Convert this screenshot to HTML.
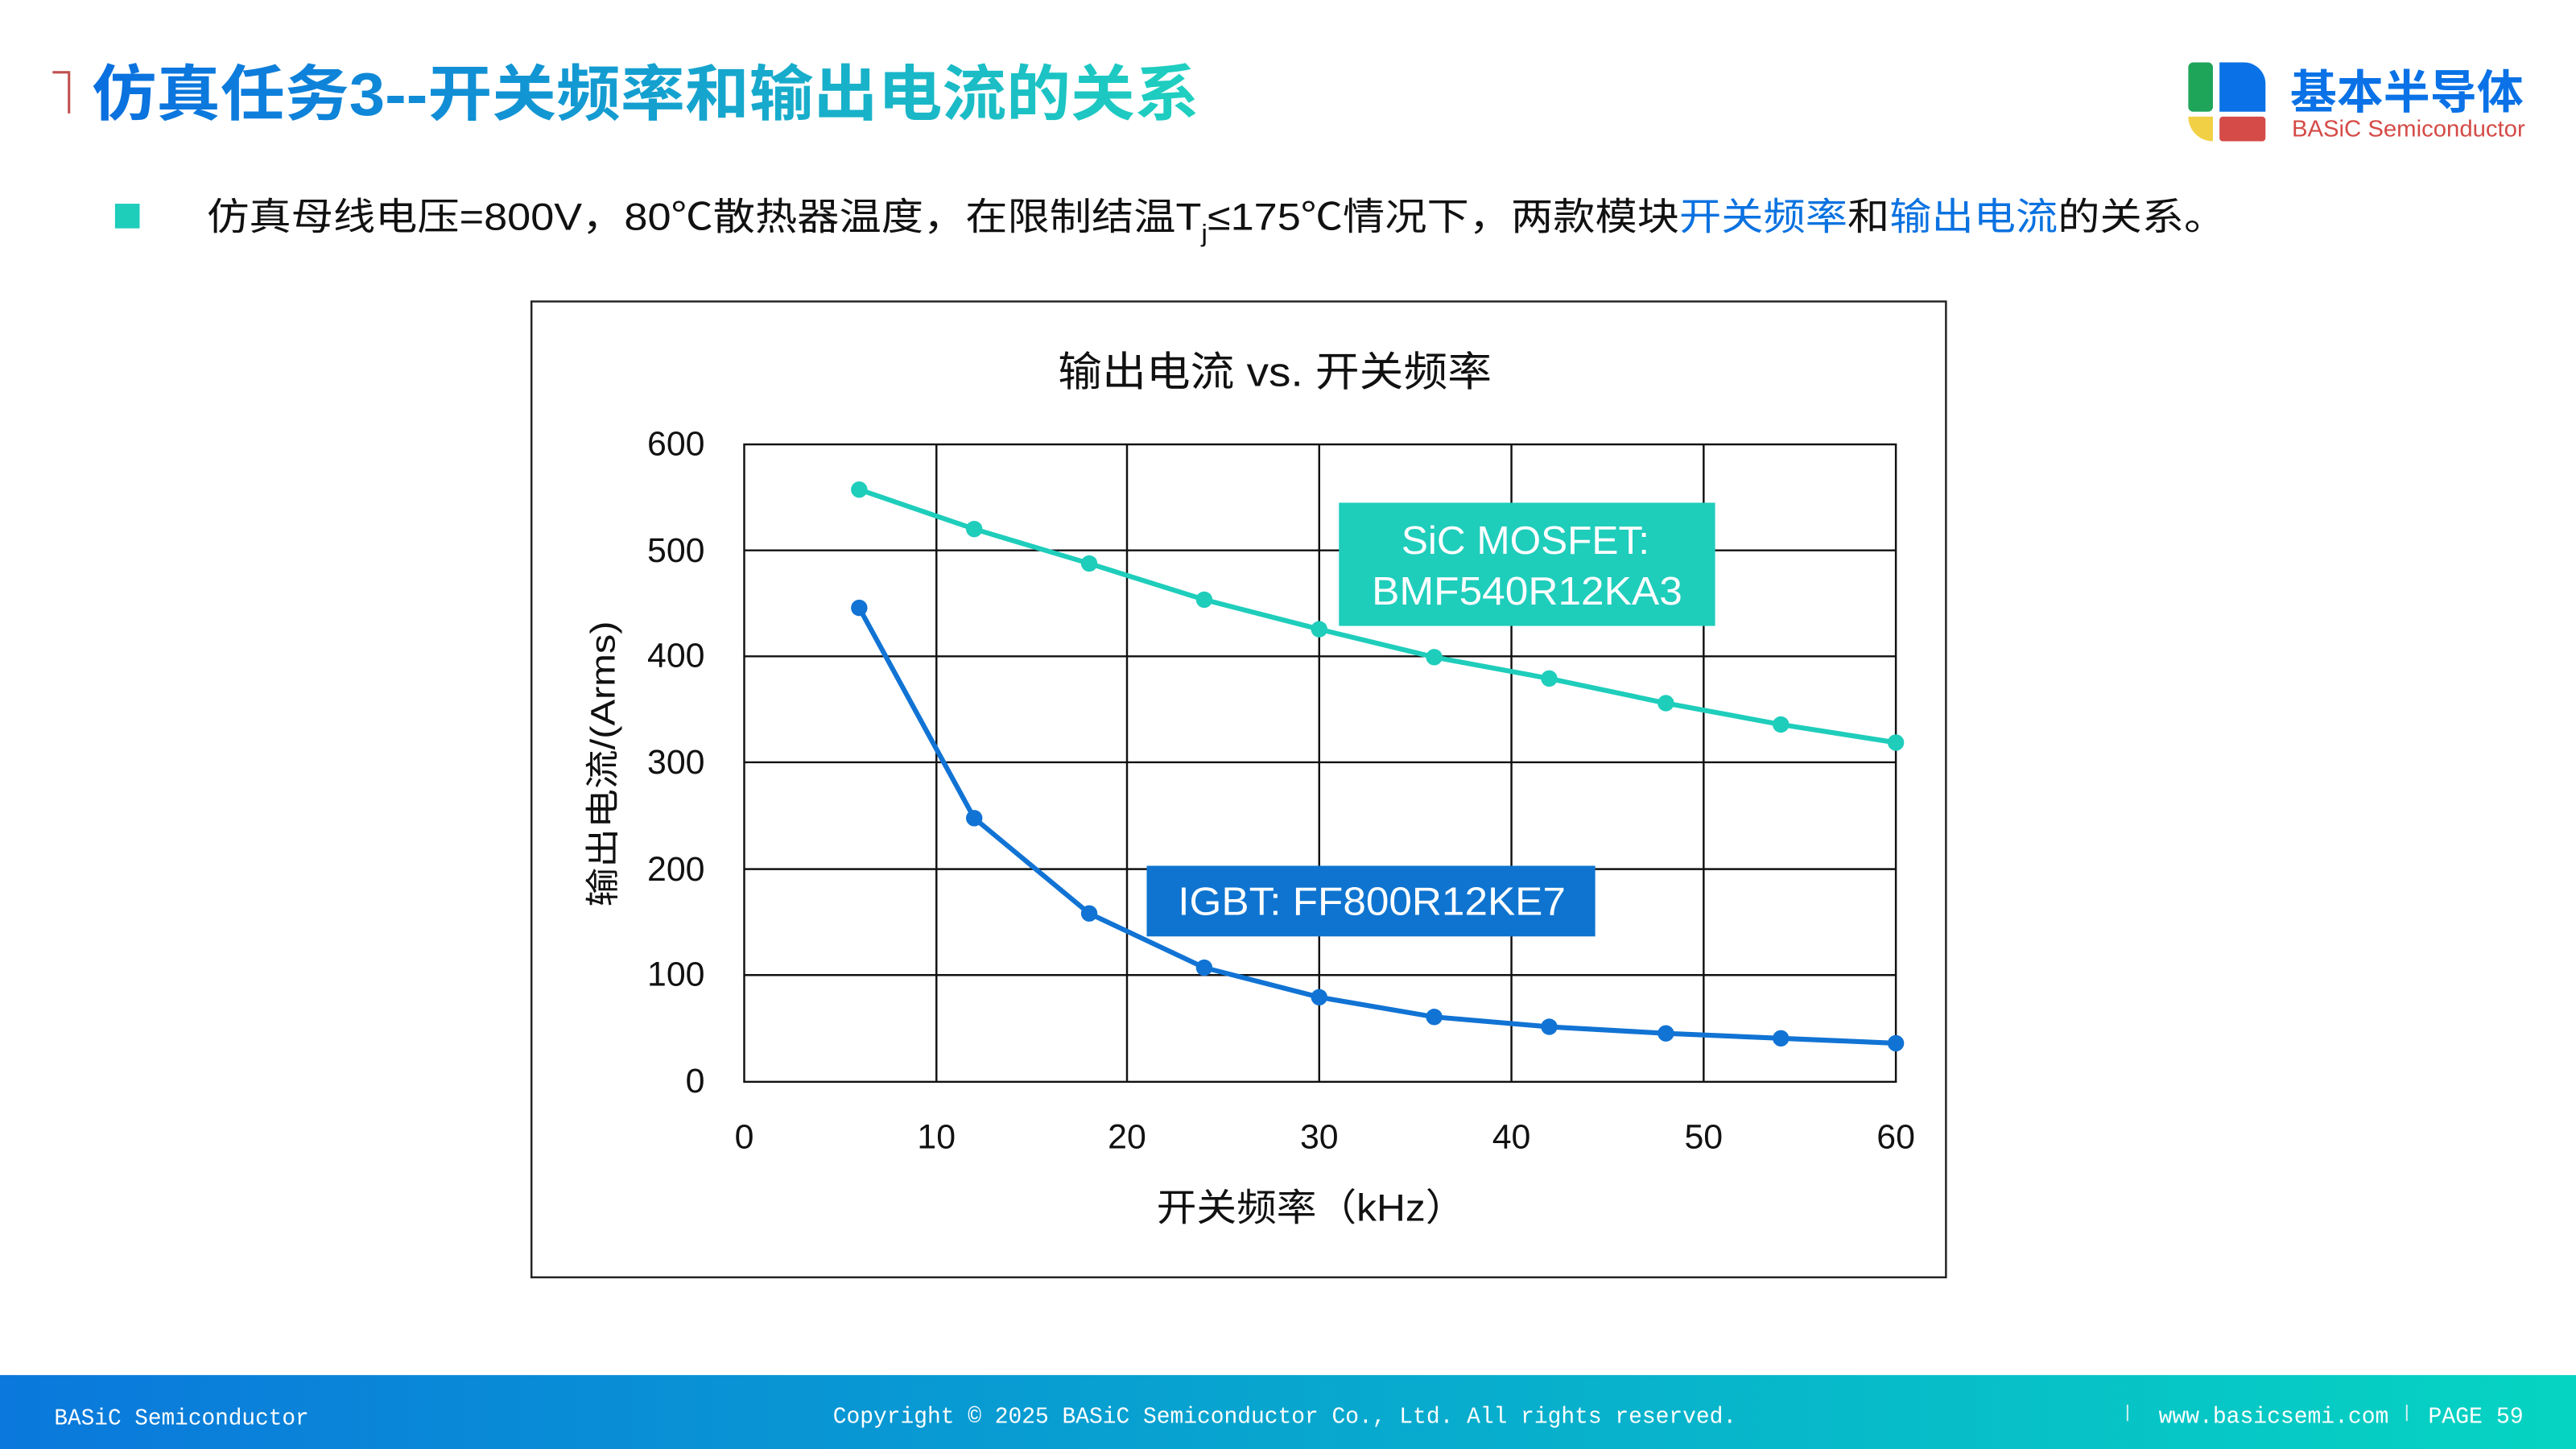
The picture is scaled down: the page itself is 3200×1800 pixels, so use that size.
<!DOCTYPE html>
<html><head><meta charset="utf-8"><style>
html,body{margin:0;padding:0;background:#fff;}
svg{display:block;}
text{font-family:"Liberation Sans","Noto Sans CJK SC",sans-serif;}
</style></head><body>
<svg width="3200" height="1800" viewBox="0 0 1568 882" xmlns="http://www.w3.org/2000/svg">
<defs>
<linearGradient id="tg" x1="0" x2="1"><stop offset="0" stop-color="#0a6fe0"/><stop offset="1" stop-color="#1fd0bf"/></linearGradient>
<linearGradient id="fg" x1="0" x2="1"><stop offset="0" stop-color="#0a78dc"/><stop offset="1" stop-color="#06d4c2"/></linearGradient>
</defs>
<rect width="1568" height="882" fill="#fff"/>
<path d="M32 44 h10 v25" fill="none" stroke="#c0504d" stroke-width="1.5"/>
<text x="56" y="70" font-size="37" font-weight="bold" fill="url(#tg)" textLength="674" lengthAdjust="spacingAndGlyphs">仿真任务3--开关频率和输出电流的关系</text>
<!-- logo -->
<rect x="1332" y="38" width="15" height="30" rx="3" fill="#1fa55a"/>
<path d="M1351 38 h15 a13 13 0 0 1 13 13 v17 h-28z" fill="#0a72e6"/>
<path d="M1332 71 h15 v15 a15 15 0 0 1 -15 -15z" fill="#f2d046"/>
<rect x="1351" y="71" width="28" height="15" rx="2" fill="#d44b47"/>
<text x="1394" y="66" font-size="28" font-weight="bold" fill="#0a72e6" textLength="142" lengthAdjust="spacingAndGlyphs">基本半导体</text>
<text x="1395" y="83" font-size="14" fill="#d44b47" textLength="142" lengthAdjust="spacingAndGlyphs">BASiC Semiconductor</text>
<!-- bullet -->
<rect x="70" y="124" width="15" height="15" fill="#1fcdbb"/>
<text x="126" y="140" font-size="23" fill="#111" textLength="1229" lengthAdjust="spacingAndGlyphs">仿真母线电压=800V，80℃散热器温度，在限制结温T<tspan font-size="15" dy="7">j</tspan><tspan dy="-7">≤175℃情况下，两款模块</tspan><tspan fill="#0a72e0">开关频率</tspan>和<tspan fill="#0a72e0">输出电流</tspan>的关系。</text>
<!-- chart -->
<rect x="323.5" y="183.5" width="861" height="594" fill="#fff" stroke="#222" stroke-width="1.2"/>
<text x="644" y="235" font-size="25" fill="#111" textLength="264" lengthAdjust="spacingAndGlyphs">输出电流 vs. 开关频率</text>
<g stroke="#111" stroke-width="1.2" fill="none">
<rect x="453" y="270.5" width="701" height="388"/>
<line x1="570" y1="270" x2="570" y2="658"/><line x1="686" y1="270" x2="686" y2="658"/>
<line x1="803" y1="270" x2="803" y2="658"/><line x1="920" y1="270" x2="920" y2="658"/>
<line x1="1037" y1="270" x2="1037" y2="658"/>
<line x1="453" y1="335" x2="1154" y2="335"/><line x1="453" y1="399.5" x2="1154" y2="399.5"/>
<line x1="453" y1="464" x2="1154" y2="464"/><line x1="453" y1="529" x2="1154" y2="529"/>
<line x1="453" y1="593.5" x2="1154" y2="593.5"/>
</g>
<g font-size="21" fill="#111" text-anchor="end">
<text x="429" y="277">600</text><text x="429" y="342">500</text><text x="429" y="406">400</text>
<text x="429" y="471">300</text><text x="429" y="536">200</text><text x="429" y="600">100</text><text x="429" y="665">0</text>
</g>
<g font-size="21" fill="#111" text-anchor="middle">
<text x="453" y="699">0</text><text x="570" y="699">10</text><text x="686" y="699">20</text><text x="803" y="699">30</text>
<text x="920" y="699">40</text><text x="1037" y="699">50</text><text x="1154" y="699">60</text>
</g>
<text x="704" y="743" font-size="23" fill="#111" textLength="188" lengthAdjust="spacingAndGlyphs">开关频率（kHz）</text>
<text transform="translate(374 552) rotate(-90)" font-size="21" fill="#111" textLength="174" lengthAdjust="spacingAndGlyphs">输出电流/(Arms)</text>
<polyline points="523,298 593,322 663,343 733,365 803,383 873,400 943,413 1014,428 1084,441 1154,452" fill="none" stroke="#1fcdbb" stroke-width="3"/>
<g fill="#1fcdbb"><circle cx="523" cy="298" r="5"/><circle cx="593" cy="322" r="5"/><circle cx="663" cy="343" r="5"/><circle cx="733" cy="365" r="5"/><circle cx="803" cy="383" r="5"/><circle cx="873" cy="400" r="5"/><circle cx="943" cy="413" r="5"/><circle cx="1014" cy="428" r="5"/><circle cx="1084" cy="441" r="5"/><circle cx="1154" cy="452" r="5"/></g>
<polyline points="523,370 593,498 663,556 733,589 803,607 873,619 943,625 1014,629 1084,632 1154,635" fill="none" stroke="#1173d4" stroke-width="3"/>
<g fill="#1173d4"><circle cx="523" cy="370" r="5"/><circle cx="593" cy="498" r="5"/><circle cx="663" cy="556" r="5"/><circle cx="733" cy="589" r="5"/><circle cx="803" cy="607" r="5"/><circle cx="873" cy="619" r="5"/><circle cx="943" cy="625" r="5"/><circle cx="1014" cy="629" r="5"/><circle cx="1084" cy="632" r="5"/><circle cx="1154" cy="635" r="5"/></g>
<rect x="815" y="306" width="229" height="75" fill="#1fcdbb"/>
<text x="853" y="337" font-size="24" fill="#fff" textLength="151" lengthAdjust="spacingAndGlyphs">SiC MOSFET:</text>
<text x="835" y="368" font-size="24" fill="#fff" textLength="189" lengthAdjust="spacingAndGlyphs">BMF540R12KA3</text>
<rect x="698" y="527" width="273" height="43" fill="#0f74d0"/>
<text x="717" y="557" font-size="24" fill="#fff" textLength="236" lengthAdjust="spacingAndGlyphs">IGBT: FF800R12KE7</text>
<!-- footer -->
<rect x="0" y="837" width="1568" height="45" fill="url(#fg)"/>
<g font-size="14" fill="#fff" style="font-family:'Liberation Mono',monospace">
<text x="33" y="867" textLength="155" lengthAdjust="spacingAndGlyphs" style="font-family:'Liberation Mono',monospace">BASiC Semiconductor</text>
<text x="507" y="866" textLength="550" lengthAdjust="spacingAndGlyphs" style="font-family:'Liberation Mono',monospace">Copyright © 2025 BASiC Semiconductor Co., Ltd. All rights reserved.</text>
<text x="1314" y="866" textLength="140" lengthAdjust="spacingAndGlyphs" style="font-family:'Liberation Mono',monospace">www.basicsemi.com</text>
<text x="1478" y="866" textLength="58" lengthAdjust="spacingAndGlyphs" style="font-family:'Liberation Mono',monospace">PAGE 59</text>
</g>
<line x1="1295" y1="855" x2="1295" y2="865" stroke="#cfeff0" stroke-width="1"/>
<line x1="1465" y1="855" x2="1465" y2="865" stroke="#cfeff0" stroke-width="1"/>
</svg>
</body></html>
